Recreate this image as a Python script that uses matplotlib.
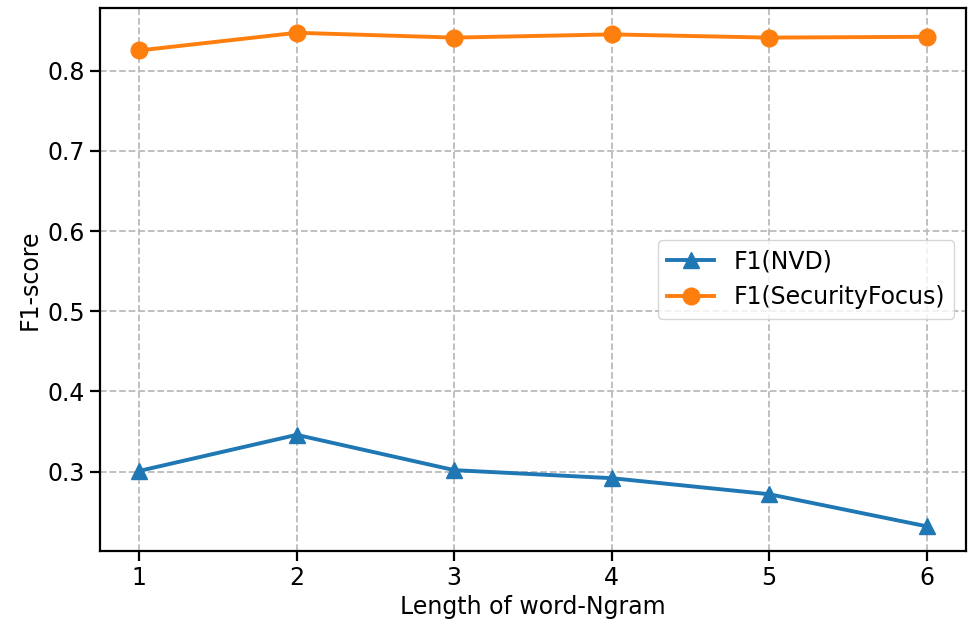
import matplotlib
matplotlib.use("Agg")
import matplotlib.pyplot as plt

ngram = [1, 2, 3, 4, 5, 6]
f1_nvd = [0.301, 0.346, 0.302, 0.292, 0.272, 0.232]
f1_sf = [0.825, 0.847, 0.841, 0.845, 0.841, 0.842]

plt.rcParams['font.size'] = 17

fig, ax = plt.subplots(figsize=(9.69, 6.24), dpi=100)
fig.subplots_adjust(left=0.103, right=0.997, bottom=0.117, top=0.987)

ax.plot(ngram, f1_nvd, marker='^', markersize=12, linewidth=2.8, label='F1(NVD)')
ax.plot(ngram, f1_sf, marker='o', markersize=12, linewidth=2.8, label='F1(SecurityFocus)')

ax.grid(True, linestyle='--', linewidth=1.3, color='#bbbbbb')
ax.set_axisbelow(True)
ax.set_xlabel('Length of word-Ngram')
ax.set_ylabel('F1-score')
ax.legend(loc='center right')
for s in ax.spines.values():
    s.set_linewidth(1.6)
ax.tick_params(width=1.6, length=7)

plt.savefig('out.png', dpi=100)
